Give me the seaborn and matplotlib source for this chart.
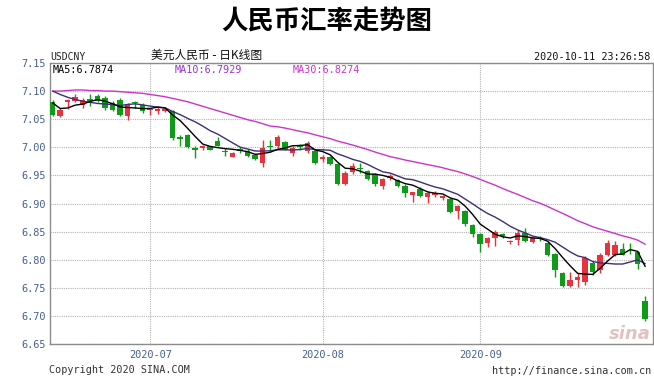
import numpy as np
import pandas as pd
import matplotlib
matplotlib.use("Agg")
import matplotlib.pyplot as plt
import seaborn as sns

# ---- data (daily OHLC, USD/CNY) ----
opens = [7.080, 7.056, 7.080, 7.083, 7.075, 7.086, 7.091, 7.088, 7.079, 7.085,
         7.056, 7.081, 7.076, 7.066, 7.064, 7.065, 7.064, 7.018, 7.022, 6.998,
         6.999, 7.002, 7.011, 6.994, 6.983, 6.997, 6.994, 6.987, 6.972, 7.003,
         7.002, 7.009, 6.989, 7.003, 6.993, 6.993, 6.980, 6.982, 6.970, 6.935,
         6.956, 6.963, 6.958, 6.952, 6.931, 6.946, 6.942, 6.932, 6.916, 6.926,
         6.911, 6.915, 6.910, 6.908, 6.887, 6.887, 6.861, 6.845, 6.829, 6.838,
         6.845, 6.832, 6.835, 6.847, 6.832, 6.839, 6.829, 6.811, 6.777, 6.753,
         6.763, 6.760, 6.794, 6.781, 6.809, 6.809, 6.819, 6.818, 6.814, 6.727]
highs = [7.085, 7.070, 7.086, 7.094, 7.088, 7.094, 7.094, 7.091, 7.082, 7.087,
         7.079, 7.083, 7.079, 7.070, 7.071, 7.071, 7.066, 7.022, 7.024, 7.002,
         7.004, 7.003, 7.019, 6.999, 6.991, 7.000, 6.997, 6.989, 7.013, 7.013,
         7.022, 7.012, 7.003, 7.005, 7.012, 6.995, 6.986, 6.984, 6.972, 6.957,
         6.972, 6.972, 6.960, 6.955, 6.946, 6.953, 6.944, 6.934, 6.921, 6.929,
         6.922, 6.922, 6.915, 6.910, 6.897, 6.889, 6.863, 6.847, 6.841, 6.853,
         6.848, 6.835, 6.853, 6.857, 6.840, 6.842, 6.831, 6.812, 6.779, 6.778,
         6.777, 6.807, 6.797, 6.812, 6.835, 6.833, 6.829, 6.829, 6.816, 6.736]
lows = [7.055, 7.054, 7.068, 7.080, 7.070, 7.073, 7.080, 7.067, 7.064, 7.055,
        7.049, 7.070, 7.061, 7.058, 7.060, 7.062, 7.013, 7.002, 6.998, 6.981,
        6.996, 6.995, 7.002, 6.984, 6.982, 6.990, 6.983, 6.977, 6.965, 6.993,
        6.999, 6.995, 6.985, 6.996, 6.990, 6.970, 6.973, 6.968, 6.933, 6.933,
        6.953, 6.955, 6.941, 6.932, 6.926, 6.942, 6.929, 6.911, 6.903, 6.912,
        6.901, 6.912, 6.907, 6.883, 6.872, 6.860, 6.840, 6.813, 6.823, 6.825,
        6.838, 6.828, 6.827, 6.832, 6.830, 6.834, 6.807, 6.769, 6.752, 6.751,
        6.751, 6.755, 6.772, 6.777, 6.807, 6.807, 6.808, 6.811, 6.784, 6.691]
closes = [7.058, 7.067, 7.084, 7.090, 7.085, 7.082, 7.083, 7.070, 7.067, 7.057,
          7.077, 7.079, 7.064, 7.069, 7.068, 7.069, 7.017, 7.014, 7.000, 6.996,
          7.002, 6.996, 7.003, 6.991, 6.990, 6.993, 6.984, 6.979, 6.999, 7.001,
          7.019, 6.996, 6.999, 7.001, 7.008, 6.972, 6.982, 6.970, 6.935, 6.955,
          6.967, 6.961, 6.944, 6.934, 6.944, 6.949, 6.931, 6.919, 6.920, 6.914,
          6.919, 6.919, 6.913, 6.885, 6.895, 6.864, 6.845, 6.828, 6.839, 6.850,
          6.842, 6.834, 6.847, 6.833, 6.838, 6.837, 6.809, 6.781, 6.754, 6.764,
          6.770, 6.803, 6.778, 6.809, 6.829, 6.826, 6.809, 6.817, 6.793, 6.694]

# moving-average values at the left edge (their earlier history is off-chart)
ma5_head = [7.079, 7.069, 7.070, 7.075]
ma10_head = [7.100, 7.094, 7.089, 7.085, 7.082, 7.080, 7.078, 7.077, 7.076]
ma30_head = [7.100, 7.100, 7.101, 7.102, 7.102, 7.101, 7.101, 7.100, 7.100, 7.099,
             7.098, 7.097, 7.096, 7.094, 7.092, 7.090, 7.087, 7.084, 7.081, 7.077,
             7.073, 7.069, 7.065, 7.061, 7.057, 7.053, 7.049, 7.046, 7.042]

month_labels = ["2020-07", "2020-08", "2020-09"]
month_first_idx = [13, 36, 57]
y_ticks = [6.65, 6.70, 6.75, 6.80, 6.85, 6.90, 6.95, 7.00, 7.05, 7.10, 7.15]
ma_labels = ["MA5:6.7874", "MA10:6.7929", "MA30:6.8274"]

# ---- styling ----
sns.set_theme(style="white")
plt.rcParams["font.family"] = ["DejaVu Sans Mono", "Noto Sans CJK SC"]
plt.rcParams["text.color"] = "black"

UP = "#e8323c"
DOWN = "#0f9a1a"
TICK = "#48608e"

n = len(closes)
df = pd.DataFrame({"idx": np.arange(n), "open": opens, "high": highs,
                   "low": lows, "close": closes})


def moving(w, head):
    r = df["close"].rolling(w).mean()
    r.iloc[:len(head)] = head
    return r


df["ma5"] = moving(5, ma5_head)
df["ma10"] = moving(10, ma10_head)
df["ma30"] = moving(30, ma30_head)

W, H = 654, 379
fig = plt.figure(figsize=(W / 100, H / 100), dpi=100)
fig.patch.set_facecolor("white")
ax = fig.add_axes([50 / W, (H - 344) / H, 603 / W, 281 / H])
ax.set_facecolor("white")

up = df["close"] >= df["open"]
colors = np.where(up, UP, DOWN)
body_lo = np.minimum(df["open"], df["close"])
body_h = np.maximum((df["close"] - df["open"]).abs(), 0.0009)

ax.vlines(df["idx"], df["low"], df["high"], colors=colors, linewidth=1.0, zorder=2)
ax.bar(df["idx"], body_h, bottom=body_lo, width=0.74, color=colors,
       linewidth=0, zorder=3)

sns.lineplot(data=df, x="idx", y="ma30", ax=ax, color="#cc33cc", linewidth=1.0, zorder=4)
sns.lineplot(data=df, x="idx", y="ma10", ax=ax, color="#3a2f7a", linewidth=1.0, zorder=4)
sns.lineplot(data=df, x="idx", y="ma5", ax=ax, color="#000000", linewidth=1.0, zorder=5)

ax.set_xlim(-0.36, 80.04)
ax.set_ylim(6.65, 7.15)
ax.set_yticks(y_ticks)
ax.set_yticklabels([f"{v:.2f}" for v in y_ticks])
ax.set_xticks(month_first_idx)
ax.set_xticklabels(month_labels)
ax.set_xlabel("")
ax.set_ylabel("")
ax.grid(True, linestyle=(0, (1, 1)), color="#b4b4b4", linewidth=0.8, zorder=0)
ax.set_axisbelow(True)
ax.tick_params(axis="both", length=0, labelsize=7.4, labelcolor=TICK)
ax.tick_params(axis="y", pad=3)
ax.tick_params(axis="x", pad=4)
for s in ax.spines.values():
    s.set_color("#8c8c8c")
    s.set_linewidth(1.0)


def fx(px):
    return px / W


def fy(py):
    return 1 - py / H


fig.text(fx(327), fy(22), "人民币汇率走势图", ha="center", va="center",
         fontsize=19, fontweight="bold", family=["Noto Sans CJK SC"], color="black")
fig.text(fx(50), fy(57), "USDCNY", ha="left", va="center", fontsize=7,
         color="#222222")
fig.text(fx(207), fy(55), "美元人民币 - 日K线图", ha="center", va="center",
         fontsize=8.5, family=["Noto Sans CJK SC", "DejaVu Sans"], color="#111111")
fig.text(fx(650), fy(57), "2020-10-11 23:26:58", ha="right", va="center",
         fontsize=7.3, color="#111111")

ma_x = [53, 175, 293]
ma_colors = ["#000000", "#9933cc", "#cc33cc"]
for lbl, x, c in zip(ma_labels, ma_x, ma_colors):
    fig.text(fx(x), fy(70), lbl, ha="left", va="center", fontsize=7.3, color=c)

fig.text(fx(49), fy(370), "Copyright 2020 SINA.COM", ha="left", va="center",
         fontsize=7.3, color="#333333")
fig.text(fx(651), fy(371), "http://finance.sina.com.cn", ha="right", va="center",
         fontsize=7.3, color="#333333")
fig.text(fx(630), fy(334), "sina", ha="center", va="center", fontsize=13,
         style="italic", fontweight="bold", color="#dcb8b8",
         family=["DejaVu Sans"], alpha=0.85)

fig.savefig("out.png", dpi=100, facecolor="white")
